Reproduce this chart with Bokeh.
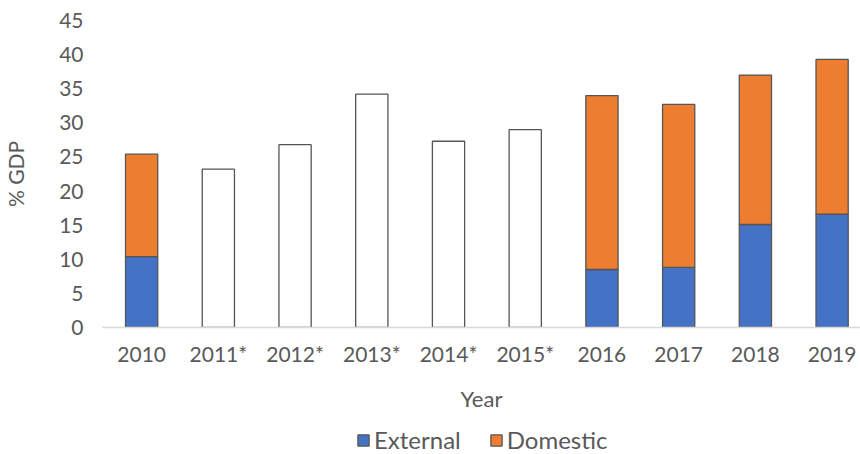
from bokeh.plotting import figure
from bokeh.layouts import column
from bokeh.models import ColumnDataSource, FixedTicker, Legend, LegendItem, Range1d
from bokeh.embed import file_html
from bokeh.resources import INLINE

years = ["2010", "2011*", "2012*", "2013*", "2014*", "2015*", "2016", "2017", "2018", "2019"]
external = [10.4, None, None, None, None, None, 8.5, 8.8, 15.1, 16.6]
domestic = [15.0, None, None, None, None, None, 25.5, 23.9, 21.9, 22.7]
total_only = [None, 23.2, 26.8, 34.2, 27.3, 29.0, None, None, None, None]
y_ticks = [0, 5, 10, 15, 20, 25, 30, 35, 40, 45]
series_names = ["External", "Domestic"]
series_colors = ["#4472C4", "#ED7D31"]

FONT = "Lato"
TXT = "#595959"
EDGE = "#555555"

split_idx = [i for i, v in enumerate(external) if v is not None]
only_idx = [i for i, v in enumerate(total_only) if v is not None]

src_split = ColumnDataSource(dict(
    x=split_idx,
    ext=[external[i] for i in split_idx],
    tot=[external[i] + domestic[i] for i in split_idx],
))
src_only = ColumnDataSource(dict(
    x=only_idx,
    tot=[total_only[i] for i in only_idx],
))

p = figure(frame_width=758, frame_height=307, output_backend="svg", toolbar_location=None,
           x_range=Range1d(-0.51, 9.37), y_range=Range1d(0, 45),
           min_border_left=102, min_border_right=0, min_border_top=20, min_border_bottom=88)
p.outline_line_color = None
p.grid.visible = False

bw = 0.42
p.vbar(x="x", bottom=0, top="ext", width=bw, source=src_split,
       fill_color=series_colors[0], line_color=EDGE, line_width=1.3)
p.vbar(x="x", bottom="ext", top="tot", width=bw, source=src_split,
       fill_color=series_colors[1], line_color=EDGE, line_width=1.3)
p.vbar(x="x", bottom=0, top="tot", width=bw, source=src_only,
       fill_color="white", line_color=EDGE, line_width=1.3)

# x axis
p.xaxis.ticker = FixedTicker(ticks=list(range(len(years))))
p.xaxis.major_label_overrides = {i: y for i, y in enumerate(years)}
p.xaxis.axis_line_color = "#d9d9d9"
p.xaxis.axis_line_width = 1.5
p.xaxis.major_tick_line_color = None
p.xaxis.minor_tick_line_color = None
p.xaxis.major_tick_in = 0
p.xaxis.major_tick_out = 0
p.xaxis.minor_tick_in = 0
p.xaxis.minor_tick_out = 0
p.xaxis.major_label_standoff = 13
p.xaxis.major_label_text_font = FONT
p.xaxis.major_label_text_font_size = "21px"
p.xaxis.major_label_text_color = TXT
p.xaxis.axis_label = "Year"
p.xaxis.axis_label_text_font = FONT
p.xaxis.axis_label_text_font_size = "22px"
p.xaxis.axis_label_text_font_style = "normal"
p.xaxis.axis_label_text_color = TXT
p.xaxis.axis_label_standoff = 16

# y axis
p.yaxis.ticker = FixedTicker(ticks=y_ticks)
p.yaxis.axis_line_color = None
p.yaxis.major_tick_line_color = None
p.yaxis.minor_tick_line_color = None
p.yaxis.major_tick_in = 0
p.yaxis.major_tick_out = 0
p.yaxis.minor_tick_in = 0
p.yaxis.minor_tick_out = 0
p.yaxis.major_label_standoff = 19
p.yaxis.major_label_text_font = FONT
p.yaxis.major_label_text_font_size = "21px"
p.yaxis.major_label_text_color = TXT
p.yaxis.axis_label = "% GDP"
p.yaxis.axis_label_text_font = FONT
p.yaxis.axis_label_text_font_size = "21px"
p.yaxis.axis_label_text_font_style = "normal"
p.yaxis.axis_label_text_color = TXT
p.yaxis.axis_label_standoff = 28

# legend strip below the chart (frame is aligned with the chart frame by the column layout)
leg = figure(width=860, height=39, output_backend="svg", toolbar_location=None,
             x_range=Range1d(0, 1), y_range=Range1d(0, 1),
             min_border=0, outline_line_color=None)
leg.axis.visible = False
leg.grid.visible = False
nan = float("nan")
items = []
for name, col in zip(series_names, series_colors):
    r = leg.vbar(x=[nan], top=[nan], width=0.1, fill_color=col, line_color=EDGE, line_width=1.3)
    items.append(LegendItem(label=name, renderers=[r]))
legend = Legend(items=items, orientation="horizontal", location=(254, 0),
                glyph_width=14, glyph_height=14, spacing=28,
                label_text_font=FONT, label_text_font_size="24px",
                label_text_color=TXT, label_standoff=4,
                border_line_color=None, background_fill_alpha=0,
                padding=0, margin=0)
leg.add_layout(legend, "center")

layout = column(p, leg, spacing=0)
open("out.html", "w").write(file_html(layout, INLINE))
